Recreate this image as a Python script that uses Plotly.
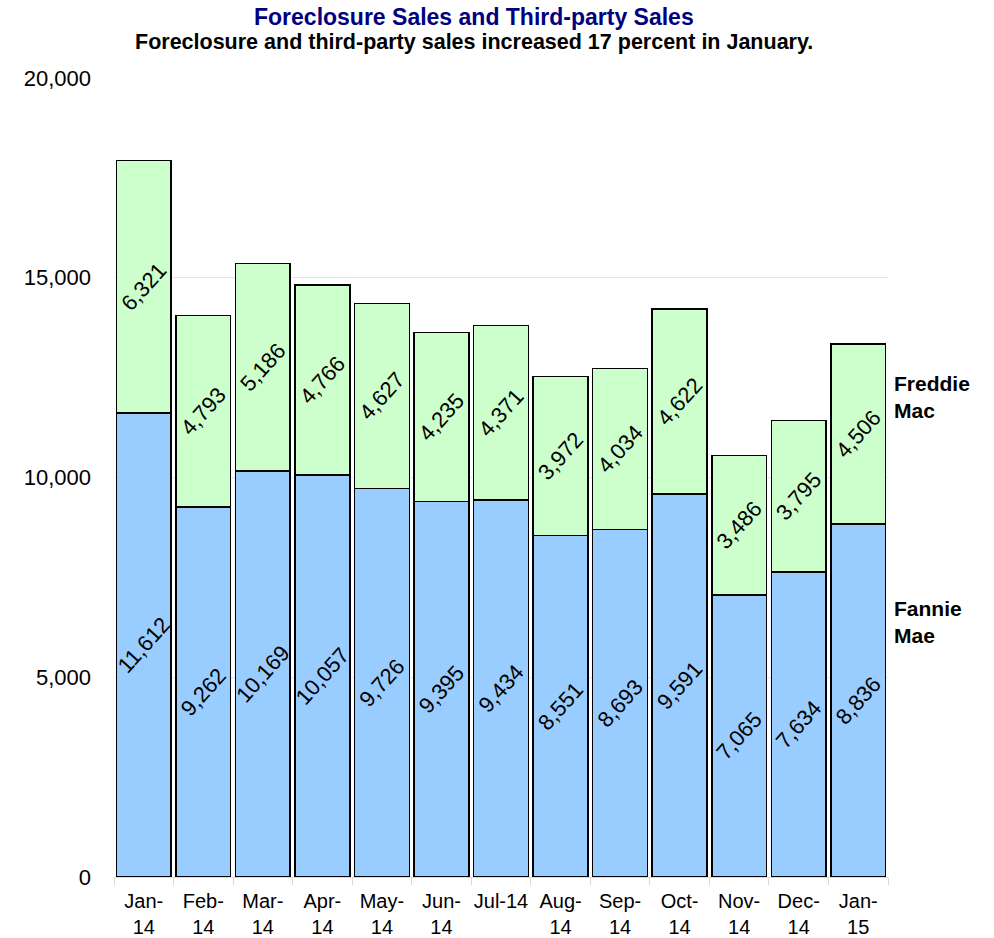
import plotly.graph_objects as go

months = ["Jan-<br>14", "Feb-<br>14", "Mar-<br>14", "Apr-<br>14", "May-<br>14", "Jun-<br>14",
          "Jul-14", "Aug-<br>14", "Sep-<br>14", "Oct-<br>14", "Nov-<br>14", "Dec-<br>14", "Jan-<br>15"]
fannie = [11612, 9262, 10169, 10057, 9726, 9395, 9434, 8551, 8693, 9591, 7065, 7634, 8836]
freddie = [6321, 4793, 5186, 4766, 4627, 4235, 4371, 3972, 4034, 4622, 3486, 3795, 4506]
yticks = [0, 5000, 10000, 15000, 20000]

FONT = "Liberation Sans, Arial, sans-serif"
W, H = 994, 938
L, R, T, B = 114, 106, 78, 61

fig = go.Figure()
for name, vals, color in [("Fannie Mae", fannie, "#99CCFF"), ("Freddie Mac", freddie, "#CCFFCC")]:
    fig.add_trace(go.Bar(
        x=months, y=vals, name=name,
        marker=dict(color=color, line=dict(color="black", width=1.5)),
        text=[f"{v:,}" for v in vals],
        textposition="inside", insidetextanchor="middle",
        textangle=-48, constraintext="none",
        textfont=dict(family=FONT, size=22, color="black"),
        hoverinfo="skip",
    ))

fig.update_layout(
    barmode="stack", bargap=0.08,
    width=W, height=H,
    margin=dict(l=L, r=R, t=T, b=B),
    paper_bgcolor="white", plot_bgcolor="white",
    showlegend=False,
    font=dict(family=FONT, color="black"),
)
fig.update_xaxes(
    type="category", tickfont=dict(size=20, family=FONT), tickangle=0, automargin=False,
    showline=True, linecolor="#d9d9d9", linewidth=1,
    ticks="outside", tickson="boundaries", ticklen=7, tickcolor="#d9d9d9",
    ticklabelstandoff=6, showgrid=False,
)
fig.update_yaxes(
    range=[0, 20000], tickvals=yticks, tickformat=",", automargin=False,
    tickfont=dict(size=22, family=FONT),
    showgrid=True, gridcolor="#e6e6e6", gridwidth=1,
    zeroline=False, showline=False, ticks="", ticklabelstandoff=22,
)

pw = W - L - R
ph = H - T - B
fig.add_annotation(text="<b>Foreclosure Sales and Third-party Sales</b>", xref="paper", yref="paper",
                   x=(474 - L) / pw, y=1 + (T - 17) / ph, xanchor="center", yanchor="middle",
                   showarrow=False, font=dict(size=23, color="#000080", family=FONT))
fig.add_annotation(text="<b>Foreclosure and third-party sales increased 17 percent in January.</b>",
                   xref="paper", yref="paper",
                   x=(474 - L) / pw, y=1 + (T - 42) / ph, xanchor="center", yanchor="middle",
                   showarrow=False, font=dict(size=21.5, color="black", family=FONT))
fig.add_annotation(text="<b>Freddie<br>Mac</b>", xref="paper", yref="y", x=1, y=12015, xshift=4,
                   xanchor="left", yanchor="middle", align="left", showarrow=False,
                   font=dict(size=21, color="black", family=FONT))
fig.add_annotation(text="<b>Fannie<br>Mae</b>", xref="paper", yref="y", x=1, y=6383, xshift=4,
                   xanchor="left", yanchor="middle", align="left", showarrow=False,
                   font=dict(size=21, color="black", family=FONT))

fig.write_html("out.html", config={"displayModeBar": False},
               post_script="document.body.style.margin='0';")
